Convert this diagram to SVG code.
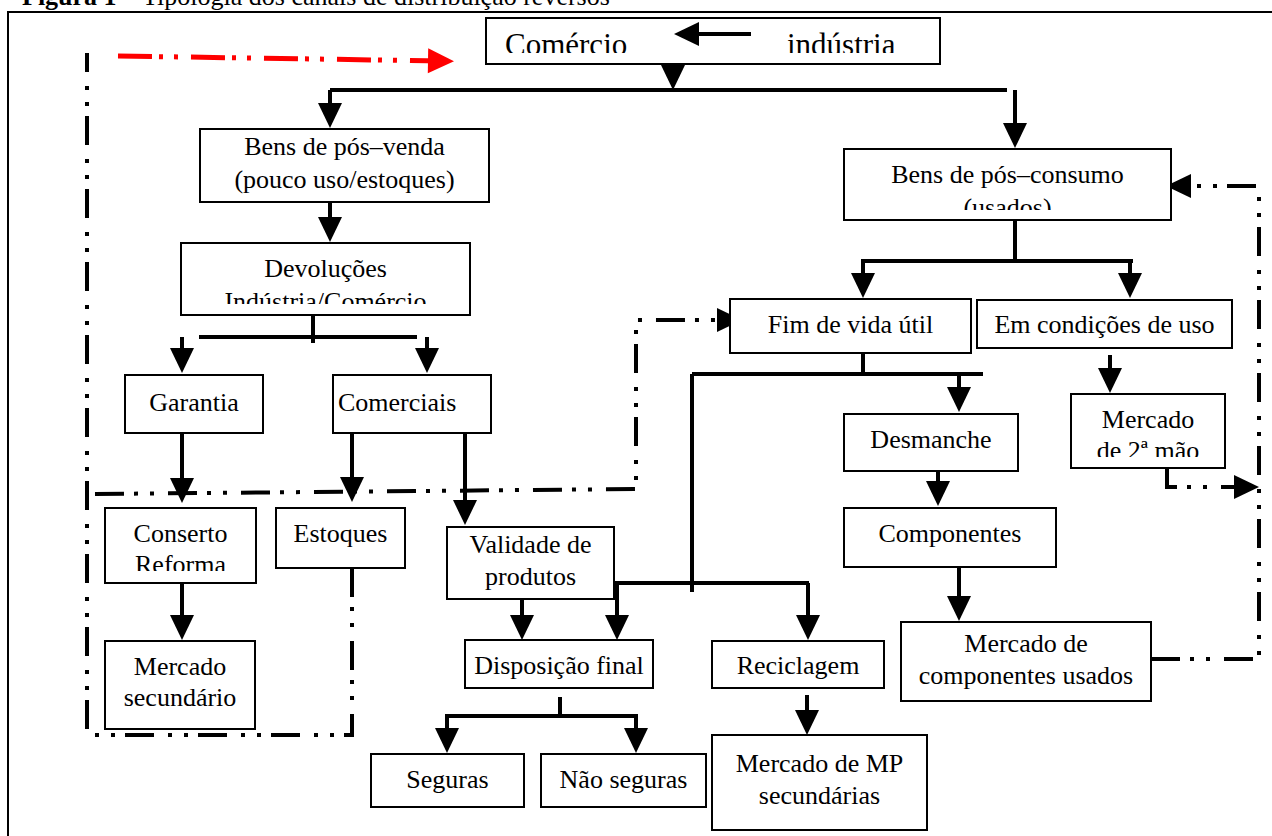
<svg xmlns="http://www.w3.org/2000/svg" width="1272" height="836" viewBox="0 0 1272 836">
<style>
text{font-family:"Liberation Serif","Times New Roman","DejaVu Serif",serif;font-size:26px;fill:#000}
.c{text-anchor:middle}
.box{fill:#fff;stroke:#000;stroke-width:2}
.ln{fill:none;stroke:#000;stroke-width:4}
.ar{fill:none;stroke:#000;stroke-width:4;marker-end:url(#ah)}
.dd{fill:none;stroke:#000;stroke-width:4;stroke-dasharray:29 10 4 12 4 14}
.red{fill:none;stroke:#f00;stroke-width:5;stroke-dasharray:34 7 4 11 4 13;marker-end:url(#ahr)}
.big{font-size:31px}
</style>
<defs>
<marker id="ah" markerUnits="userSpaceOnUse" markerWidth="26" markerHeight="26" viewBox="0 0 26 26" refX="15" refY="12" orient="auto" overflow="visible"><path d="M0,0 L25,12 L0,24 z" fill="#000"/></marker>
<marker id="ahr" markerUnits="userSpaceOnUse" markerWidth="27" markerHeight="26" viewBox="0 0 27 26" refX="16" refY="12.5" orient="auto" overflow="visible"><path d="M0,0 L26,12.5 L0,25 z" fill="#f00"/></marker>
<clipPath id="cTop"><rect x="486" y="18" width="454" height="35"/></clipPath>
<clipPath id="cDev"><rect x="181" y="243" width="289" height="61"/></clipPath>
<clipPath id="cCons"><rect x="844" y="149" width="327" height="61"/></clipPath>
<clipPath id="cM2"><rect x="1071" y="394" width="154" height="63"/></clipPath>
<clipPath id="cConserto"><rect x="105" y="508" width="151" height="63"/></clipPath>
</defs>
<rect width="1272" height="836" fill="#fff"/>
<text x="22" y="5"><tspan font-weight="bold">Figura 1</tspan> – Tipologia dos canais de distribuição reversos</text>
<path d="M8,836 V12 H1272" fill="none" stroke="#000" stroke-width="2"/>

<g id="connectors">
<path class="ar" d="M673,52 V80"/>
<path class="ln" d="M330,90 H1007"/>
<path class="ar" d="M330,90 V118"/>
<path class="ar" d="M1015,90 V138"/>
<path class="ar" d="M330,202 V232"/>
<path class="ln" d="M313,315 V343 M199,337 H417"/>
<path class="ar" d="M182,337 V363"/>
<path class="ar" d="M427,337 V363"/>
<path class="ar" d="M182,433 V493"/>
<path class="ar" d="M352,433 V492"/>
<path class="ar" d="M465,433 V515"/>
<path class="ar" d="M182,583 V630"/>
<path class="ln" d="M1015,220 V261 M861,261 H1133"/>
<path class="ar" d="M863,261 V288"/>
<path class="ar" d="M1130,261 V288"/>
<path class="ln" d="M863,353 V374 M692,374 H983 M692,374 V592 M614,583 H809"/>
<path class="ar" d="M959,374 V402"/>
<path class="ar" d="M617,583 V630"/>
<path class="ar" d="M808,583 V630"/>
<path class="ar" d="M522,599 V630"/>
<path class="ar" d="M1110,355 V383"/>
<path class="ar" d="M938,471 V496"/>
<path class="ar" d="M959,567 V611"/>
<path class="ln" d="M560,697 V716 M445,716 H638"/>
<path class="ar" d="M447,716 V743"/>
<path class="ar" d="M636,716 V743"/>
<path class="ar" d="M807,695 V725"/>
<path class="dd" d="M352,568 V735 H87 V53"/>
<path class="red" d="M118,56 L444,61"/>
<path class="dd" d="M95,494 L636,489 V320 H732" marker-end="url(#ah)"/>
<path class="dd" d="M1151,659 H1259 V186 H1176" marker-end="url(#ah)"/>
<path class="dd" d="M1167,468 V487 H1249" marker-end="url(#ah)"/>
</g>

<g id="n-comercio-industria">
<rect class="box" x="486" y="18" width="454" height="46"/>
<g clip-path="url(#cTop)"><text class="big" x="505" y="55">Comércio</text><text class="big" x="787" y="55">indústria</text></g>
<path class="ar" d="M751,34 H684"/>
</g>
<g id="n-pos-venda">
<rect class="box" x="200" y="129" width="289" height="73"/>
<text class="c" x="344.5" y="155">Bens de pós–venda</text>
<text class="c" x="344.5" y="188">(pouco uso/estoques)</text>
</g>
<g id="n-devolucoes">
<rect class="box" x="181" y="243" width="289" height="72"/>
<g clip-path="url(#cDev)"><text class="c" x="325.5" y="277">Devoluções</text><text class="c" x="325.5" y="310">Indústria/Comércio</text></g>
</g>
<g id="n-pos-consumo">
<rect class="box" x="844" y="149" width="327" height="71"/>
<g clip-path="url(#cCons)"><text class="c" x="1007.5" y="183">Bens de pós–consumo</text><text class="c" x="1007.5" y="216">(usados)</text></g>
</g>
<g id="n-fim-vida">
<rect class="box" x="730" y="299" width="241" height="54"/>
<text class="c" x="850.5" y="333">Fim de vida útil</text>
</g>
<g id="n-condicoes-uso">
<rect class="box" x="977" y="300" width="255" height="48"/>
<text class="c" x="1104.5" y="333">Em condições de uso</text>
</g>
<g id="n-garantia">
<rect class="box" x="125" y="375" width="138" height="58"/>
<text class="c" x="194" y="411">Garantia</text>
</g>
<g id="n-comerciais">
<rect class="box" x="333" y="375" width="158" height="58"/>
<text x="338" y="411">Comerciais</text>
</g>
<g id="n-desmanche">
<rect class="box" x="844" y="414" width="174" height="57"/>
<text class="c" x="931" y="448">Desmanche</text>
</g>
<g id="n-mercado-2mao">
<rect class="box" x="1071" y="394" width="154" height="74"/>
<g clip-path="url(#cM2)"><text class="c" x="1148" y="428">Mercado</text><text class="c" x="1148" y="459">de 2ª mão</text></g>
</g>
<g id="n-conserto">
<rect class="box" x="105" y="508" width="151" height="75"/>
<g clip-path="url(#cConserto)"><text class="c" x="180.5" y="542">Conserto</text><text class="c" x="180.5" y="573">Reforma</text></g>
</g>
<g id="n-estoques">
<rect class="box" x="276" y="508" width="129" height="60"/>
<text class="c" x="340.5" y="542">Estoques</text>
</g>
<g id="n-validade">
<rect class="box" x="447" y="527" width="167" height="72"/>
<text class="c" x="530.5" y="553">Validade de</text>
<text class="c" x="530.5" y="585">produtos</text>
</g>
<g id="n-componentes">
<rect class="box" x="844" y="508" width="212" height="59"/>
<text class="c" x="950" y="542">Componentes</text>
</g>
<g id="n-mercado-secundario">
<rect class="box" x="105" y="641" width="150" height="88"/>
<text class="c" x="180" y="675">Mercado</text>
<text class="c" x="180" y="706">secundário</text>
</g>
<g id="n-disposicao">
<rect class="box" x="465" y="640" width="188" height="48"/>
<text class="c" x="559" y="674">Disposição final</text>
</g>
<g id="n-reciclagem">
<rect class="box" x="712" y="641" width="172" height="47"/>
<text class="c" x="798" y="674">Reciclagem</text>
</g>
<g id="n-mercado-componentes">
<rect class="box" x="901" y="622" width="250" height="79"/>
<text class="c" x="1026" y="652">Mercado de</text>
<text class="c" x="1026" y="684">componentes usados</text>
</g>
<g id="n-seguras">
<rect class="box" x="371" y="754" width="153" height="53"/>
<text class="c" x="447.5" y="788">Seguras</text>
</g>
<g id="n-nao-seguras">
<rect class="box" x="541" y="754" width="165" height="53"/>
<text class="c" x="623.5" y="788">Não seguras</text>
</g>
<g id="n-mercado-mp">
<rect class="box" x="712" y="735" width="215" height="95"/>
<text class="c" x="819.5" y="772">Mercado de MP</text>
<text class="c" x="819.5" y="804">secundárias</text>
</g>
</svg>
